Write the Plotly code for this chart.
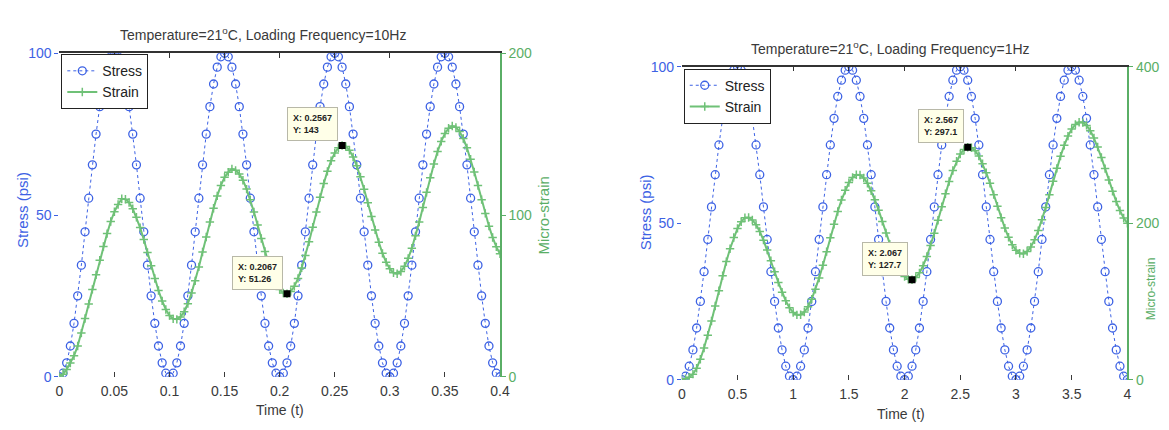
import numpy as np
import plotly.graph_objects as go

# ---------------- data ----------------
stress_psi = [
    0, 1.1, 4.3, 9.5, 16.5, 25, 34.5, 44.8, 55.2, 65.5, 75, 83.5, 90.5, 95.7, 98.9,
    100, 98.9, 95.7, 90.5, 83.5, 75, 65.5, 55.2, 44.8, 34.5, 25, 16.5, 9.5, 4.3, 1.1,
    0, 1.1, 4.3, 9.5, 16.5, 25, 34.5, 44.8, 55.2, 65.5, 75, 83.5, 90.5, 95.7, 98.9,
    100, 98.9, 95.7, 90.5, 83.5, 75, 65.5, 55.2, 44.8, 34.5, 25, 16.5, 9.5, 4.3, 1.1,
    0, 1.1, 4.3, 9.5, 16.5, 25, 34.5, 44.8, 55.2, 65.5, 75, 83.5, 90.5, 95.7, 98.9,
    100, 98.9, 95.7, 90.5, 83.5, 75, 65.5, 55.2, 44.8, 34.5, 25, 16.5, 9.5, 4.3, 1.1,
    0, 1.1, 4.3, 9.5, 16.5, 25, 34.5, 44.8, 55.2, 65.5, 75, 83.5, 90.5, 95.7, 98.9,
    100, 98.9, 95.7, 90.5, 83.5, 75, 65.5, 55.2, 44.8, 34.5, 25, 16.5, 9.5, 4.3, 1.1,
    0,
]

strain_10hz = [
    0, 1.5, 4.5, 8.5, 13, 19, 27, 36, 45, 54,
    63, 72, 80.5, 88.5, 96, 102, 106.5, 110, 109.7, 107.7,
    103.9, 98.6, 92.2, 84.8, 76.8, 68.7, 60.7, 53.3, 46.9, 41.6,
    37.8, 35.8, 35.5, 37.0, 40.2, 45.2, 51.7, 59.3, 67.9, 77.1,
    86.4, 95.6, 104.2, 111.8, 118.3, 123.3, 126.5, 128.5, 127.6, 125.4,
    121.5, 116, 109.4, 101.9, 93.8, 85.5, 77.4, 69.9, 63.2, 57.8,
    53.9, 51.7, 51.3, 52.7, 55.9, 60.8, 67.3, 74.9, 83.4, 92.5,
    101.8, 110.9, 119.4, 127, 133.5, 138.4, 141.6, 143, 142.4, 140,
    135.9, 130.4, 123.6, 115.9, 107.6, 99.1, 90.8, 83.1, 76.3, 70.8,
    66.7, 64.3, 63.7, 65.1, 68.3, 73.2, 79.5, 87.1, 95.6, 104.7,
    114, 123.1, 131.6, 139.2, 145.5, 150.4, 153.6, 155, 154.2, 151.6,
    147.3, 141.5, 134.5, 126.6, 118.2, 109.5, 101, 93.1, 86.1, 80.3,
    76,
]

strain_1hz = [
    0, 1, 3, 7, 14.5, 26.1, 40.4, 56.8, 75, 94.1,
    113.7, 132.8, 150.9, 167.4, 181.7, 193.3, 201.7, 207, 207.2, 204.2,
    198.1, 189.3, 178.3, 165.7, 152.1, 137.9, 124.3, 111.7, 100.7, 91.9,
    85.8, 82.8, 83, 86.5, 93.1, 102.9, 115.4, 130, 146.3, 163.6,
    181.4, 198.7, 215, 229.6, 242.1, 251.9, 258.5, 262, 261.5, 257.9,
    251, 241.5, 229.9, 216.6, 202.3, 187.4, 173.1, 159.8, 148.2, 138.7,
    131.8, 128.2, 127.7, 130.6, 136.5, 145.7, 157.5, 171.5, 187.2, 203.8,
    221, 237.6, 253.3, 267.3, 279.1, 288.3, 294.2, 297.1, 296.5, 292.7,
    285.8, 276.1, 264.4, 251, 236.5, 221.6, 207.1, 193.7, 182, 172.3,
    165.4, 161.6, 161, 163.8, 169.6, 178.7, 190.5, 204.3, 219.9, 236.5,
    253.5, 270.1, 285.7, 299.5, 311.3, 320.4, 326.2, 329, 328.6, 325,
    318.3, 308.8, 297.3, 284.1, 269.8, 255.1, 240.9, 227.6, 216.1, 206.7,
    199.9,
]

time_10hz = np.linspace(0, 0.4, len(stress_psi))
time_1hz = np.linspace(0, 4, len(stress_psi))

tips_10hz_x = [0.2067, 0.2567]
tips_10hz_y = [51.26, 143]
tips_1hz_x = [2.067, 2.567]
tips_1hz_y = [127.7, 297.1]

titles = ["Temperature=21<sup>o</sup>C, Loading Frequency=10Hz",
          "Temperature=21<sup>o</sup>C, Loading Frequency=1Hz"]

# ---------------- styling ----------------
W, H = 1169, 430
FONT = "Liberation Sans Narrow, Liberation Sans, Arial, sans-serif"
BLUE = "#3d62e4"
GREEN = "#6fc177"
GREEN_AX = "#5aae66"
GRAY = "#3a3a3a"


def px(x):
    return x / W


def py(y):
    return (H - y) / H


fig = go.Figure()

panels = [
    dict(t=time_10hz, s=strain_10hz, tx=tips_10hz_x, ty=tips_10hz_y,
         xs="x", ys="y", ys2="y2", legend="legend",
         dom_x=[px(56), px(502)], dom_y=[py(383), py(47)]),
    dict(t=time_1hz, s=strain_1hz, tx=tips_1hz_x, ty=tips_1hz_y,
         xs="x3", ys="y3", ys2="y4", legend="legend2",
         dom_x=[px(686), px(1137)], dom_y=[py(386), py(61)]),
]

for p in panels:
    fig.add_trace(go.Scatter(
        x=p["t"], y=stress_psi, name="Stress", mode="lines+markers",
        line=dict(color=BLUE, width=1, dash="dot"),
        marker=dict(symbol="circle-open", size=8, color=BLUE, line=dict(width=1.3)),
        xaxis=p["xs"], yaxis=p["ys"], legend=p["legend"]))
    fig.add_trace(go.Scatter(
        x=p["t"], y=p["s"], name="Strain", mode="lines+markers",
        line=dict(color=GREEN, width=2),
        marker=dict(symbol="cross-thin", size=6, color=GREEN, line=dict(width=1.5, color=GREEN)),
        xaxis=p["xs"], yaxis=p["ys2"], legend=p["legend"]))
    fig.add_trace(go.Scatter(
        x=p["tx"], y=p["ty"], mode="markers", showlegend=False,
        marker=dict(symbol="square", size=7, color="black"),
        xaxis=p["xs"], yaxis=p["ys2"]))
    for xv, yv in zip(p["tx"], p["ty"]):
        fig.add_annotation(
            x=xv, y=yv, xref=p["xs"], yref=p["ys2"],
            text=f"<b>X: {xv}<br>Y: {yv}</b>", showarrow=False,
            xanchor="right", yanchor="bottom", xshift=-4, yshift=4, align="left",
            font=dict(family=FONT, size=9, color="#222"),
            bgcolor="#ffffe8", bordercolor="#b8b8a8", borderwidth=1, borderpad=5)

common_x = dict(showgrid=False, zeroline=False, ticks="inside", ticklen=5,
                tickcolor=GRAY, ticklabelstandoff=4,
                tickfont=dict(family=FONT, size=14, color=GRAY))

fig.update_layout(
    width=W, height=H, margin=dict(l=0, r=0, t=0, b=0),
    paper_bgcolor="white", plot_bgcolor="white",
    font=dict(family=FONT, size=14, color=GRAY),
    xaxis=dict(domain=panels[0]["dom_x"], range=[0, 0.4], dtick=0.05, anchor="y",
               showline=False, **common_x),
    xaxis2=dict(domain=panels[0]["dom_x"], range=[0, 0.4], dtick=0.05, anchor="y",
                overlaying="x", side="top", showline=True, linecolor="#333", linewidth=1.5,
                showticklabels=False, showgrid=False, zeroline=False, ticks="inside",
                ticklen=5, tickcolor="#333"),
    yaxis=dict(domain=panels[0]["dom_y"], range=[0, 100], tickvals=[0, 50, 100],
               anchor="x", showgrid=False, zeroline=False, showline=False,
               ticks="outside", ticklen=4, tickcolor=BLUE,
               tickfont=dict(family=FONT, size=14, color=BLUE)),
    yaxis2=dict(range=[0, 200], tickvals=[0, 100, 200], overlaying="y", side="right",
                anchor="x", showgrid=False, zeroline=False, showline=True,
                linecolor=GREEN_AX, linewidth=1.5, ticks="outside", ticklen=4,
                tickcolor=GREEN_AX, tickfont=dict(family=FONT, size=14, color=GREEN_AX)),
    xaxis3=dict(domain=panels[1]["dom_x"], range=[0, 4], dtick=0.5, anchor="y3",
                showline=False, **common_x),
    xaxis4=dict(domain=panels[1]["dom_x"], range=[0, 4], dtick=0.5, anchor="y3",
                overlaying="x3", side="top", showline=True, linecolor="#333", linewidth=1.5,
                showticklabels=False, showgrid=False, zeroline=False, ticks="inside",
                ticklen=5, tickcolor="#333"),
    yaxis3=dict(domain=panels[1]["dom_y"], range=[0, 100], tickvals=[0, 50, 100],
                anchor="x3", showgrid=False, zeroline=False, showline=False,
                ticks="outside", ticklen=4, tickcolor=BLUE,
                tickfont=dict(family=FONT, size=14, color=BLUE)),
    yaxis4=dict(range=[0, 400], tickvals=[0, 200, 400], overlaying="y3", side="right",
                anchor="x3", showgrid=False, zeroline=False, showline=True,
                linecolor=GREEN_AX, linewidth=1.5, ticks="outside", ticklen=4,
                tickcolor=GREEN_AX, tickfont=dict(family=FONT, size=14, color=GREEN_AX)),
    legend=dict(x=px(58), y=py(48), xanchor="left", yanchor="top",
                bgcolor="white", bordercolor="#222", borderwidth=1,
                font=dict(family=FONT, size=14, color="#222"),
                itemwidth=30, tracegroupgap=0),
    legend2=dict(x=px(688), y=py(63), xanchor="left", yanchor="top",
                 bgcolor="white", bordercolor="#222", borderwidth=1,
                 font=dict(family=FONT, size=14, color="#222"),
                 itemwidth=30, tracegroupgap=0),
    showlegend=True,
)

# invisible traces so the top (box) axes render
fig.add_trace(go.Scatter(x=[0], y=[0], xaxis="x2", yaxis="y", mode="markers",
                         marker=dict(opacity=0), showlegend=False, hoverinfo="skip"))
fig.add_trace(go.Scatter(x=[0], y=[0], xaxis="x4", yaxis="y3", mode="markers",
                         marker=dict(opacity=0), showlegend=False, hoverinfo="skip"))

texts = [
    (titles[0], 262, 27, 0, GRAY, 14),
    (titles[1], 897, 42, 0, GRAY, 14),
    ("Stress (psi)", 18, 210, -90, BLUE, 15),
    ("Micro-strain", 546, 215, -90, GREEN_AX, 15),
    ("Stress (psi)", 649, 212, -90, BLUE, 15),
    ("Micro-strain", 1161, 292, -90, GREEN_AX, 12),
    ("Time (t)", 279, 418, 0, GRAY, 14),
    ("Time (t)", 908, 422, 0, GRAY, 14),
]
for txt, x, y, ang, col, sz in texts:
    fig.add_annotation(x=px(x), y=py(y), xref="paper", yref="paper", text=txt,
                       showarrow=False, textangle=ang, xanchor="center", yanchor="middle",
                       font=dict(family=FONT, size=sz, color=col))

fig.write_html("out.html")
